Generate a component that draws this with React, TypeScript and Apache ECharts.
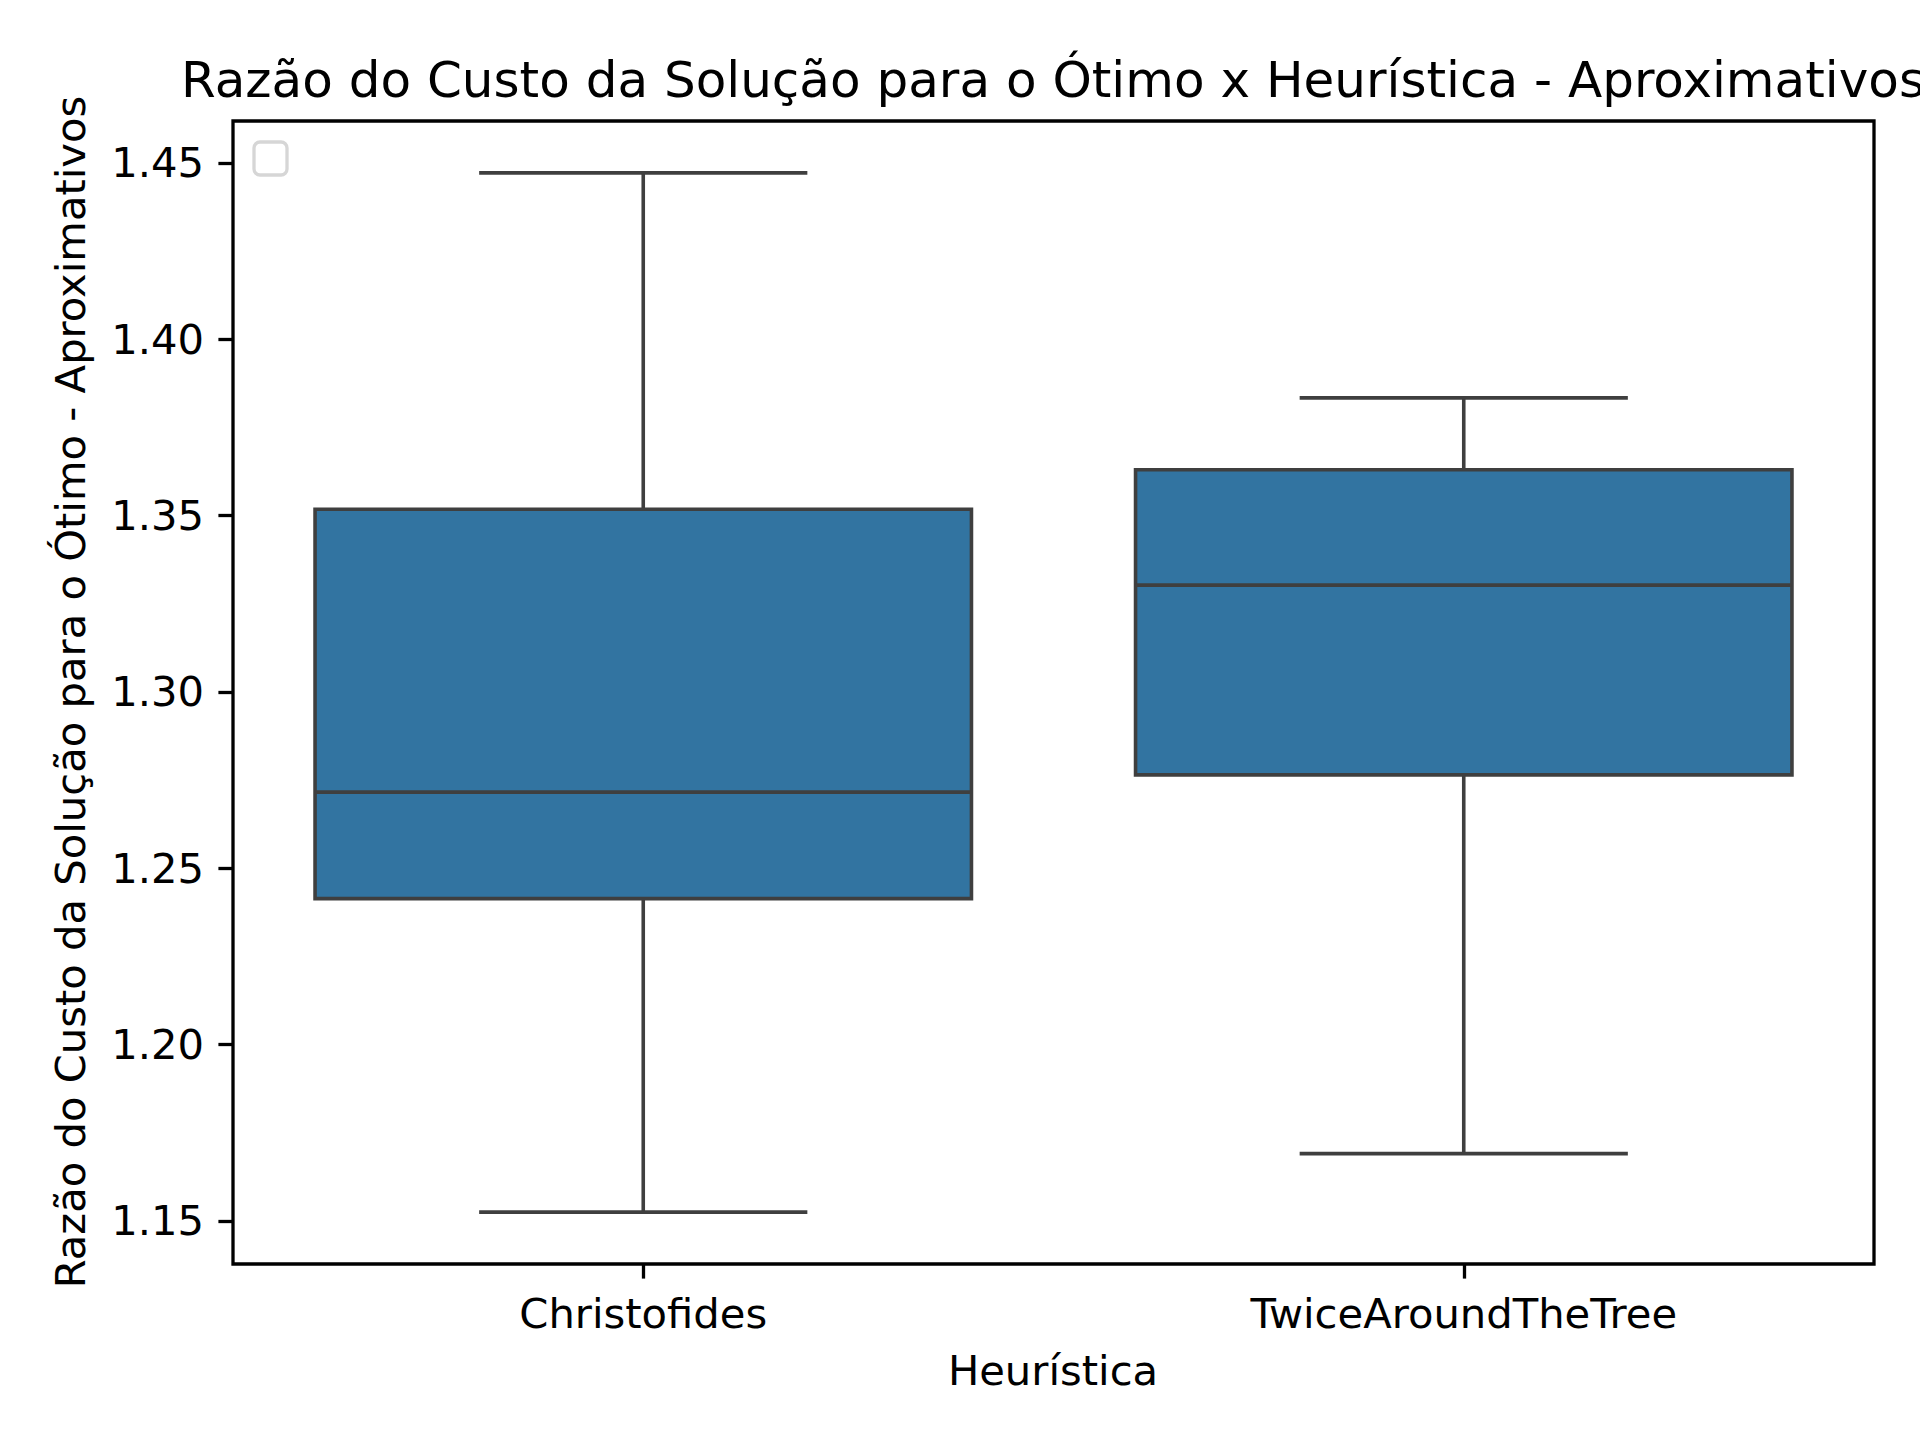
import React, { useEffect, useRef } from "react";
import * as echarts from "echarts";

const categories = ["Christofides", "TwiceAroundTheTree"];
const whiskerLow = [1.1525, 1.1691];
const quartile1 = [1.2414, 1.2765];
const medians = [1.2716, 1.3303];
const quartile3 = [1.3518, 1.363];
const whiskerHigh = [1.4472, 1.3834];
const yTicks = [1.15, 1.2, 1.25, 1.3, 1.35, 1.4, 1.45];
const yMin = 1.1378;
const yMax = 1.4619;

const titleText = "Razão do Custo da Solução para o Ótimo x Heurística - Aproximativos";
const yName = "Razão do Custo da Solução para o Ótimo - Aproximativos";
const xName = "Heurística";

const FONT = "'DejaVu Sans', Verdana, sans-serif";

export default function App() {
  const ref = useRef<HTMLDivElement>(null);
  useEffect(() => {
    if (!ref.current) return;
    const chart = echarts.init(ref.current, null, { renderer: "svg" });
    const data = categories.map((_, i) => [
      i,
      whiskerLow[i],
      quartile1[i],
      medians[i],
      quartile3[i],
      whiskerHigh[i],
    ]);
    const lineColor = "#3f3f3f";
    const lw = 3.6;
    chart.setOption({
      animation: false,
      backgroundColor: "#ffffff",
      textStyle: { fontFamily: FONT },
      grid: {
        left: 233,
        right: 46,
        top: 121,
        bottom: 176,
        show: true,
        borderColor: "#000",
        borderWidth: 3.3,
        backgroundColor: "transparent",
      },
      xAxis: {
        type: "category",
        data: categories,
        boundaryGap: true,
        axisLine: { show: false },
        axisTick: {
          show: true,
          alignWithLabel: true,
          length: 14.6,
          lineStyle: { color: "#000", width: 3.3 },
        },
        axisLabel: { fontSize: 41.7, color: "#000", margin: 28, fontFamily: FONT },
        splitLine: { show: false },
      },
      yAxis: {
        type: "value",
        min: yMin,
        max: yMax,
        axisLine: { show: false },
        axisTick: {
          show: true,
          length: 14.6,
          customValues: yTicks,
          lineStyle: { color: "#000", width: 3.3 },
        },
        axisLabel: {
          customValues: yTicks,
          formatter: (v: number) => v.toFixed(2),
          fontSize: 41.7,
          color: "#000",
          margin: 29,
          fontFamily: FONT,
        },
        splitLine: { show: false },
      },
      series: [
        {
          type: "custom",
          data,
          encode: { x: 0, y: [1, 2, 3, 4, 5] },
          clip: false,
          renderItem: (params: any, api: any) => {
            const i = api.value(0);
            const pLo = api.coord([i, api.value(1)]);
            const pQ1 = api.coord([i, api.value(2)]);
            const pMed = api.coord([i, api.value(3)]);
            const pQ3 = api.coord([i, api.value(4)]);
            const pHi = api.coord([i, api.value(5)]);
            const cx = pMed[0];
            const bw = api.size([1, 0])[0] * 0.8;
            const cw = bw / 2;
            const ls = { stroke: lineColor, lineWidth: lw };
            return {
              type: "group",
              children: [
                { type: "line", shape: { x1: cx, y1: pQ3[1], x2: cx, y2: pHi[1] }, style: ls },
                { type: "line", shape: { x1: cx, y1: pQ1[1], x2: cx, y2: pLo[1] }, style: ls },
                { type: "line", shape: { x1: cx - cw / 2, y1: pHi[1], x2: cx + cw / 2, y2: pHi[1] }, style: ls },
                { type: "line", shape: { x1: cx - cw / 2, y1: pLo[1], x2: cx + cw / 2, y2: pLo[1] }, style: ls },
                {
                  type: "rect",
                  shape: { x: cx - bw / 2, y: pQ3[1], width: bw, height: pQ1[1] - pQ3[1] },
                  style: { fill: "#3274a1", stroke: lineColor, lineWidth: lw },
                },
                { type: "line", shape: { x1: cx - bw / 2, y1: pMed[1], x2: cx + bw / 2, y2: pMed[1] }, style: ls },
              ],
            };
          },
        },
      ],
      graphic: [
        {
          type: "text",
          x: 1053,
          y: 80,
          style: {
            text: titleText,
            font: `50px ${FONT}`,
            fill: "#000",
            textAlign: "center",
            textVerticalAlign: "middle",
          },
        },
        {
          type: "text",
          x: 1053,
          y: 1370,
          style: {
            text: xName,
            font: `41.7px ${FONT}`,
            fill: "#000",
            textAlign: "center",
            textVerticalAlign: "middle",
          },
        },
        {
          type: "text",
          x: 70,
          y: 692,
          rotation: Math.PI / 2,
          style: {
            text: yName,
            font: `41.7px ${FONT}`,
            fill: "#000",
            textAlign: "center",
            textVerticalAlign: "middle",
          },
        },
        {
          type: "rect",
          shape: { x: 254, y: 142, width: 33, height: 33, r: 6 },
          style: { fill: "#fff", stroke: "#d6d6d6", lineWidth: 3.3 },
        },
      ],
    });
    return () => chart.dispose();
  }, []);
  return (
    <div
      ref={ref}
      style={{ position: "absolute", left: 0, top: 0, width: 1920, height: 1440 }}
    />
  );
}
